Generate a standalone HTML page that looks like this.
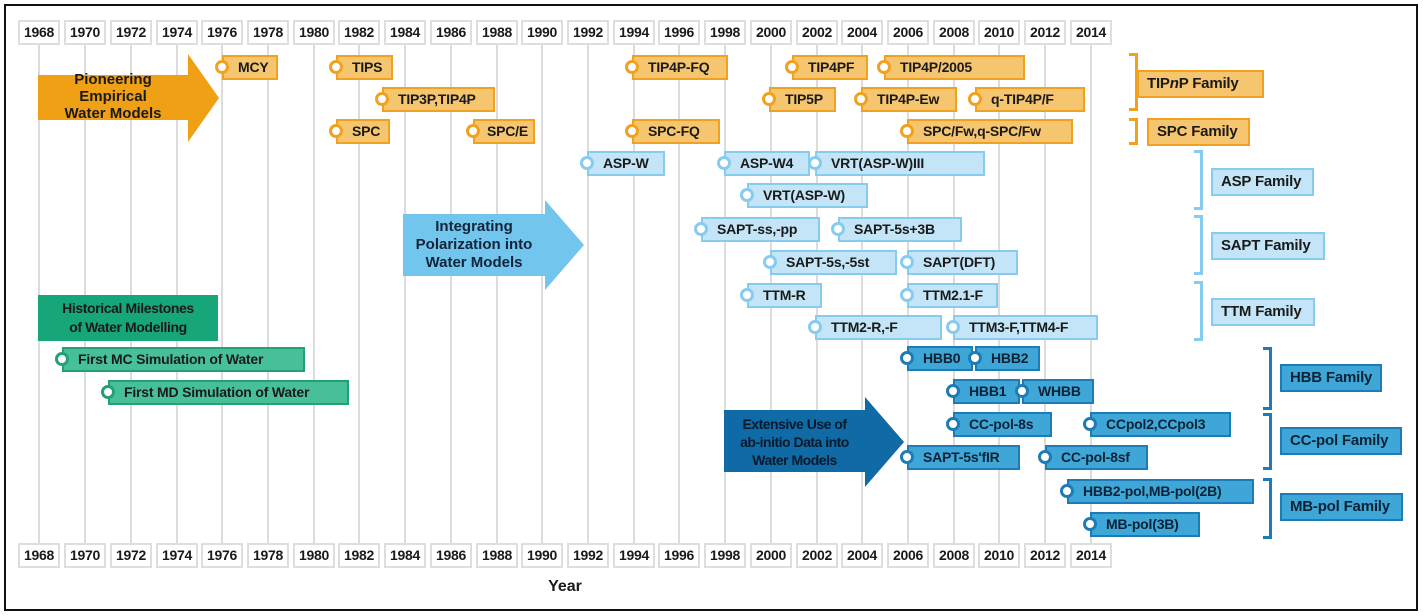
<!DOCTYPE html>
<html><head><meta charset="utf-8"><style>
*{box-sizing:border-box;margin:0;padding:0}
body{width:1423px;height:616px;background:#fff;position:relative;overflow:hidden;font-family:"Liberation Sans",Arial,sans-serif;font-weight:bold;color:#1a1a1a}
.frame{position:absolute;left:4px;top:4px;width:1414px;height:607px;border:2px solid #111}
.g{position:absolute;top:44px;height:500px;width:2px;background:#dcdcdc}
.y{position:absolute;width:42px;height:25px;border:2px solid #dedede;background:#fff;font-size:14px;line-height:21px;text-align:center;letter-spacing:-0.3px}
.b{position:absolute;height:25px;border:2px solid;font-size:14px;line-height:21px;padding-left:14px;white-space:nowrap;letter-spacing:-0.2px}
.b i{position:absolute;left:-9px;top:3px;width:14px;height:14px;border-radius:50%;background:#fff;border:3px solid}
.f{position:absolute;height:28px;border:2px solid;font-size:15px;line-height:24px;padding-left:8px;white-space:nowrap;letter-spacing:-0.2px}
.o{background:#f6c56f;border-color:#f0a21e}.o i{border-color:#f0a21e}
.l{background:#c3e5f7;border-color:#86ccef}.l i{border-color:#86ccef}
.d{background:#3fa7d8;border-color:#1d7bb6;color:#0c2235}.d i{border-color:#1d7bb6}
.gr{background:#47bf99;border-color:#22a07a}.gr i{border-color:#22a07a}
.br{position:absolute;width:9px;border:3px solid;border-left:none}
.arr{position:absolute}
.arr .t{position:absolute;font-size:15px;line-height:18px;text-align:center}
</style></head><body>
<div class="frame"></div>
<div class="g" style="left:38px"></div><div class="g" style="left:84px"></div><div class="g" style="left:130px"></div><div class="g" style="left:176px"></div><div class="g" style="left:221px"></div><div class="g" style="left:267px"></div><div class="g" style="left:313px"></div><div class="g" style="left:358px"></div><div class="g" style="left:404px"></div><div class="g" style="left:450px"></div><div class="g" style="left:496px"></div><div class="g" style="left:541px"></div><div class="g" style="left:587px"></div><div class="g" style="left:633px"></div><div class="g" style="left:678px"></div><div class="g" style="left:724px"></div><div class="g" style="left:770px"></div><div class="g" style="left:816px"></div><div class="g" style="left:861px"></div><div class="g" style="left:907px"></div><div class="g" style="left:953px"></div><div class="g" style="left:998px"></div><div class="g" style="left:1044px"></div><div class="g" style="left:1090px"></div>
<div style="position:absolute;top:20px;left:0">
<div class="y" style="left:18px">1968</div><div class="y" style="left:64px">1970</div><div class="y" style="left:110px">1972</div><div class="y" style="left:156px">1974</div><div class="y" style="left:201px">1976</div><div class="y" style="left:247px">1978</div><div class="y" style="left:293px">1980</div><div class="y" style="left:338px">1982</div><div class="y" style="left:384px">1984</div><div class="y" style="left:430px">1986</div><div class="y" style="left:476px">1988</div><div class="y" style="left:521px">1990</div><div class="y" style="left:567px">1992</div><div class="y" style="left:613px">1994</div><div class="y" style="left:658px">1996</div><div class="y" style="left:704px">1998</div><div class="y" style="left:750px">2000</div><div class="y" style="left:796px">2002</div><div class="y" style="left:841px">2004</div><div class="y" style="left:887px">2006</div><div class="y" style="left:933px">2008</div><div class="y" style="left:978px">2010</div><div class="y" style="left:1024px">2012</div><div class="y" style="left:1070px">2014</div>
</div>
<div style="position:absolute;top:543px;left:0">
<div class="y" style="left:18px">1968</div><div class="y" style="left:64px">1970</div><div class="y" style="left:110px">1972</div><div class="y" style="left:156px">1974</div><div class="y" style="left:201px">1976</div><div class="y" style="left:247px">1978</div><div class="y" style="left:293px">1980</div><div class="y" style="left:338px">1982</div><div class="y" style="left:384px">1984</div><div class="y" style="left:430px">1986</div><div class="y" style="left:476px">1988</div><div class="y" style="left:521px">1990</div><div class="y" style="left:567px">1992</div><div class="y" style="left:613px">1994</div><div class="y" style="left:658px">1996</div><div class="y" style="left:704px">1998</div><div class="y" style="left:750px">2000</div><div class="y" style="left:796px">2002</div><div class="y" style="left:841px">2004</div><div class="y" style="left:887px">2006</div><div class="y" style="left:933px">2008</div><div class="y" style="left:978px">2010</div><div class="y" style="left:1024px">2012</div><div class="y" style="left:1070px">2014</div>
</div>
<div style="position:absolute;left:540px;top:578px;width:50px;text-align:center;font-size:16px">Year</div>

<div class="arr" style="left:38px;top:54px;width:182px;height:88px">
<svg width="182" height="88" style="position:absolute;left:0;top:0"><polygon points="0,21 150,21 150,0 181,44 150,88 150,66 0,66" fill="#f0a015"/></svg>
<div class="t" style="left:0;top:17px;width:150px;line-height:17px">Pioneering<br>Empirical<br>Water Models</div></div>
<div class="arr" style="left:403px;top:200px;width:182px;height:90px">
<svg width="182" height="90" style="position:absolute;left:0;top:0"><polygon points="0,14 142,14 142,0 181,45 142,90 142,76 0,76" fill="#72c5ec"/></svg>
<div class="t" style="left:0;top:18px;width:142px;color:#12243a">Integrating<br>Polarization into<br>Water Models</div></div>
<div class="arr" style="left:724px;top:397px;width:182px;height:90px">
<svg width="182" height="90" style="position:absolute;left:0;top:0"><polygon points="0,13 141,13 141,0 180,45 141,90 141,75 0,75" fill="#0f6aa6"/></svg>
<div class="t" style="left:0;top:18px;width:141px;color:#0a1a2c;font-size:14px;letter-spacing:-0.5px">Extensive Use of<br>ab-initio Data into<br>Water Models</div></div>

<div style="position:absolute;left:38px;top:295px;width:180px;height:46px;background:#17a57a;font-size:14px;line-height:19px;text-align:center;padding-top:4px;letter-spacing:-0.4px">Historical Milestones<br>of Water Modelling</div>
<div class="b gr" style="left:62px;top:347px;width:243px"><i></i>First MC Simulation of Water</div>
<div class="b gr" style="left:108px;top:380px;width:241px"><i></i>First MD Simulation of Water</div>

<div class="b o" style="left:222px;top:55px;width:56px"><i></i>MCY</div>
<div class="b o" style="left:336px;top:55px;width:57px"><i></i>TIPS</div>
<div class="b o" style="left:382px;top:87px;width:113px"><i></i>TIP3P,TIP4P</div>
<div class="b o" style="left:336px;top:119px;width:54px"><i></i>SPC</div>
<div class="b o" style="left:473px;top:119px;width:62px;padding-left:12px"><i></i>SPC/E</div>
<div class="b o" style="left:632px;top:55px;width:96px"><i></i>TIP4P-FQ</div>
<div class="b o" style="left:632px;top:119px;width:88px"><i></i>SPC-FQ</div>
<div class="b o" style="left:792px;top:55px;width:76px"><i></i>TIP4PF</div>
<div class="b o" style="left:769px;top:87px;width:67px"><i></i>TIP5P</div>
<div class="b o" style="left:884px;top:55px;width:141px"><i></i>TIP4P/2005</div>
<div class="b o" style="left:861px;top:87px;width:96px"><i></i>TIP4P-Ew</div>
<div class="b o" style="left:975px;top:87px;width:110px"><i></i>q-TIP4P/F</div>
<div class="b o" style="left:907px;top:119px;width:166px"><i></i>SPC/Fw,q-SPC/Fw</div>
<div class="br" style="left:1129px;top:53px;height:58px;border-color:#f0a21e"></div>
<div class="f o" style="left:1137px;top:70px;width:127px">TIP<em>n</em>P Family</div>
<div class="br" style="left:1129px;top:118px;height:27px;border-color:#f0a21e"></div>
<div class="f o" style="left:1147px;top:118px;width:103px">SPC Family</div>

<div class="b l" style="left:587px;top:151px;width:78px"><i></i>ASP-W</div>
<div class="b l" style="left:724px;top:151px;width:86px"><i></i>ASP-W4</div>
<div class="b l" style="left:815px;top:151px;width:170px"><i></i>VRT(ASP-W)III</div>
<div class="b l" style="left:747px;top:183px;width:121px"><i></i>VRT(ASP-W)</div>
<div class="b l" style="left:701px;top:217px;width:119px"><i></i>SAPT-ss,-pp</div>
<div class="b l" style="left:838px;top:217px;width:124px"><i></i>SAPT-5s+3B</div>
<div class="b l" style="left:770px;top:250px;width:127px"><i></i>SAPT-5s,-5st</div>
<div class="b l" style="left:907px;top:250px;width:111px"><i></i>SAPT(DFT)</div>
<div class="b l" style="left:747px;top:283px;width:75px"><i></i>TTM-R</div>
<div class="b l" style="left:907px;top:283px;width:91px"><i></i>TTM2.1-F</div>
<div class="b l" style="left:815px;top:315px;width:127px"><i></i>TTM2-R,-F</div>
<div class="b l" style="left:953px;top:315px;width:145px"><i></i>TTM3-F,TTM4-F</div>
<div class="br" style="left:1194px;top:150px;height:60px;border-color:#86ccef"></div>
<div class="f l" style="left:1211px;top:168px;width:103px">ASP Family</div>
<div class="br" style="left:1194px;top:215px;height:60px;border-color:#86ccef"></div>
<div class="f l" style="left:1211px;top:232px;width:114px">SAPT Family</div>
<div class="br" style="left:1194px;top:281px;height:60px;border-color:#86ccef"></div>
<div class="f l" style="left:1211px;top:298px;width:104px">TTM Family</div>

<div class="b d" style="left:907px;top:346px;width:66px"><i></i>HBB0</div>
<div class="b d" style="left:975px;top:346px;width:65px"><i></i>HBB2</div>
<div class="b d" style="left:953px;top:379px;width:67px"><i></i>HBB1</div>
<div class="b d" style="left:1022px;top:379px;width:72px"><i></i>WHBB</div>
<div class="b d" style="left:953px;top:412px;width:99px"><i></i>CC-pol-8s</div>
<div class="b d" style="left:1090px;top:412px;width:141px"><i></i>CCpol2,CCpol3</div>
<div class="b d" style="left:907px;top:445px;width:113px"><i></i>SAPT-5s'fIR</div>
<div class="b d" style="left:1045px;top:445px;width:103px"><i></i>CC-pol-8sf</div>
<div class="b d" style="left:1067px;top:479px;width:187px"><i></i>HBB2-pol,MB-pol(2B)</div>
<div class="b d" style="left:1090px;top:512px;width:110px"><i></i>MB-pol(3B)</div>
<div class="br" style="left:1263px;top:347px;height:63px;border-color:#1d7bb6"></div>
<div class="f d" style="left:1280px;top:364px;width:102px">HBB Family</div>
<div class="br" style="left:1263px;top:413px;height:57px;border-color:#1d7bb6"></div>
<div class="f d" style="left:1280px;top:427px;width:122px">CC-pol Family</div>
<div class="br" style="left:1263px;top:478px;height:61px;border-color:#1d7bb6"></div>
<div class="f d" style="left:1280px;top:493px;width:123px">MB-pol Family</div>
</body></html>
